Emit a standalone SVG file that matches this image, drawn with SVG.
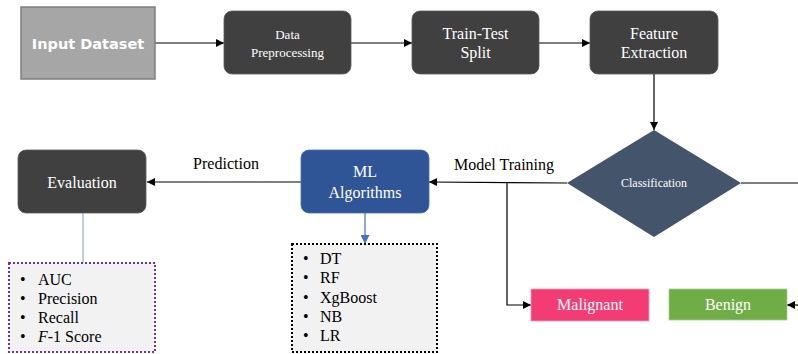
<svg xmlns="http://www.w3.org/2000/svg" width="798" height="354" viewBox="0 0 798 354">
<defs>
<marker id="ah" viewBox="0 0 10 10" refX="10" refY="5" markerWidth="8" markerHeight="8" markerUnits="userSpaceOnUse" orient="auto"><path d="M0,0 L10,5 L0,10 z" fill="#000"/></marker>
<marker id="ahb" viewBox="0 0 10 10" refX="10" refY="5" markerWidth="9" markerHeight="9" markerUnits="userSpaceOnUse" orient="auto"><path d="M0,0 L10,5 L0,10 z" fill="#4472c4"/></marker>
<style>
text{font-family:'Liberation Serif','Times New Roman','DejaVu Serif',serif}
.dark{fill:#404040;stroke:#5a5a5a;stroke-width:0.8}
.wt{fill:#fff;text-anchor:middle}
.bt{fill:#000;font-size:16px}
.ln{stroke:#000;stroke-width:1.2;fill:none}
.list{fill:#f2f2f2;stroke-width:2;stroke-dasharray:2 2}
</style>
</defs>
<rect width="798" height="354" fill="#fff"/>
<g id="connectors">
<line class="ln" x1="155" y1="43" x2="224" y2="43" marker-end="url(#ah)"/>
<line class="ln" x1="351" y1="43" x2="412" y2="43" marker-end="url(#ah)"/>
<line class="ln" x1="539" y1="43" x2="590" y2="43" marker-end="url(#ah)"/>
<line class="ln" x1="654" y1="74" x2="654" y2="130" marker-end="url(#ah)"/>
<line class="ln" x1="567" y1="183" x2="429" y2="182" marker-end="url(#ah)"/>
<polyline class="ln" points="507,182 507,305 531,305" marker-end="url(#ah)"/>
<line class="ln" x1="741" y1="183" x2="798" y2="183"/>
<line class="ln" x1="798" y1="305" x2="787" y2="305" marker-end="url(#ah)"/>
<line class="ln" x1="301" y1="182" x2="147" y2="182" marker-end="url(#ah)"/>
<line x1="83" y1="213" x2="83" y2="263" stroke="#8faadc" stroke-width="1.2"/>
<line x1="365" y1="213" x2="365" y2="244" stroke="#4472c4" stroke-width="1.2" marker-end="url(#ahb)"/>
<text class="bt" x="226" y="169" text-anchor="middle" font-family="Liberation Serif, serif">Prediction</text>
<text class="bt" x="454" y="170" font-family="Liberation Serif, serif">Model Training</text>
</g>
<g id="input">
<rect x="21" y="7" width="134" height="72" fill="#a6a6a6" stroke="#7f7f7f" stroke-width="1.5"/>
<text x="88" y="49" text-anchor="middle" style="font-family:'DejaVu Sans',Verdana,sans-serif" font-weight="bold" font-size="14.5" fill="#fff">Input Dataset</text>
</g>
<g id="preprocessing">
<rect class="dark" x="224" y="11" width="127" height="63" rx="8"/>
<text class="wt" font-size="13" x="287.5" y="39">Data</text>
<text class="wt" font-size="13" x="287.5" y="57">Preprocessing</text>
</g>
<g id="split">
<rect class="dark" x="412" y="11" width="127" height="63" rx="8"/>
<text class="wt" font-size="16" x="475.5" y="39">Train-Test</text>
<text class="wt" font-size="16" x="475.5" y="58">Split</text>
</g>
<g id="feature">
<rect class="dark" x="590" y="11" width="128" height="63" rx="8"/>
<text class="wt" font-size="16" x="654" y="39">Feature</text>
<text class="wt" font-size="16" x="654" y="58">Extraction</text>
</g>
<g id="classification">
<polygon points="654,130 741,183 654,237 567,183" fill="#44546a"/>
<text class="wt" font-size="12" x="654" y="187">Classification</text>
</g>
<g id="ml">
<rect x="301" y="150" width="128" height="63" rx="8" fill="#2f5597" stroke="#4a6fb0" stroke-width="0.8"/>
<text class="wt" font-size="16" x="365" y="177">ML</text>
<text class="wt" font-size="16" x="365" y="198">Algorithms</text>
</g>
<g id="evaluation">
<rect class="dark" x="18" y="150" width="128" height="63" rx="8"/>
<text class="wt" font-size="16" x="82" y="188">Evaluation</text>
</g>
<g id="malignant">
<rect x="531" y="289" width="118" height="32" fill="#f23c73" stroke="#f7a0b8" stroke-width="0.8"/>
<text class="wt" font-size="16" x="590" y="310">Malignant</text>
</g>
<g id="benign">
<rect x="669" y="289" width="118" height="31" fill="#70ad47" stroke="#a9d08e" stroke-width="0.8"/>
<text class="wt" font-size="16" x="728" y="310">Benign</text>
</g>
<g id="metrics">
<rect class="list" x="9" y="263" width="146" height="89" stroke="#7030a0"/>
<g class="bt" font-size="15">
<text x="20" y="285">•</text><text x="38" y="285">AUC</text>
<text x="20" y="304">•</text><text x="38" y="304">Precision</text>
<text x="20" y="323">•</text><text x="38" y="323">Recall</text>
<text x="20" y="342">•</text><text x="38" y="342"><tspan font-style="italic">F</tspan>-1 Score</text>
</g>
</g>
<g id="algorithms">
<rect class="list" x="292" y="244" width="145" height="108" stroke="#000"/>
<g class="bt" font-size="15">
<text x="303" y="264">•</text><text x="320" y="264">DT</text>
<text x="303" y="283">•</text><text x="320" y="283">RF</text>
<text x="303" y="302.5">•</text><text x="320" y="302.5">XgBoost</text>
<text x="303" y="322">•</text><text x="320" y="322">NB</text>
<text x="303" y="341">•</text><text x="320" y="341">LR</text>
</g>
</g>
</svg>
